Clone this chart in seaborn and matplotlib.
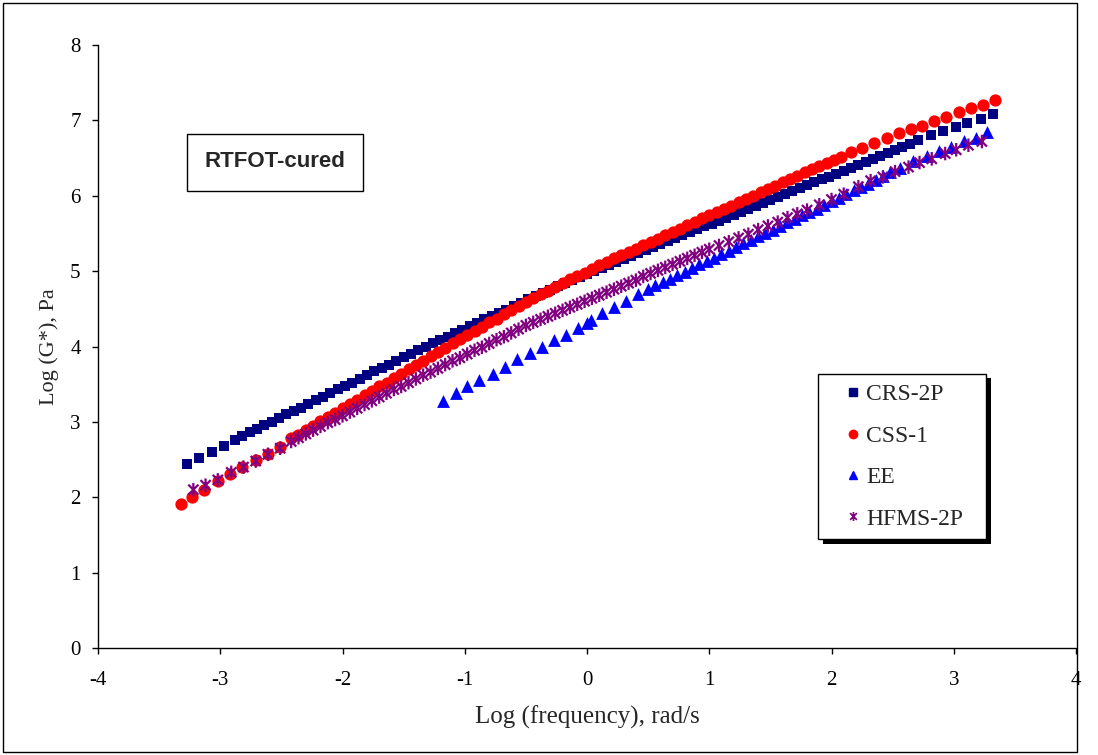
import matplotlib
matplotlib.use("Agg")
import numpy as np
import pandas as pd
import seaborn as sns
import matplotlib.pyplot as plt
from matplotlib.path import Path
from matplotlib.patches import Rectangle
from matplotlib.lines import Line2D
from matplotlib.transforms import IdentityTransform

# ---------------- data ----------------
series_names = ["CRS-2P", "CSS-1", "EE", "HFMS-2P"]

crs_x = [-3.27, -3.17, -3.07, -2.97, -2.88, -2.82, -2.76, -2.70, -2.64, -2.58, -2.52, -2.46, -2.40,
         -2.34, -2.28, -2.22, -2.16, -2.10, -2.04, -1.98, -1.92, -1.86, -1.80, -1.74, -1.68, -1.62,
         -1.56, -1.50, -1.44, -1.38, -1.32, -1.26, -1.20, -1.14, -1.08, -1.02, -0.96, -0.90, -0.84,
         -0.78, -0.72, -0.66, -0.60, -0.54, -0.48, -0.42, -0.36, -0.30, -0.24, -0.18, -0.12, -0.06,
         0.00, 0.06, 0.12, 0.18, 0.24, 0.30, 0.36, 0.42, 0.48, 0.54, 0.60, 0.66, 0.72, 0.78, 0.84,
         0.90, 0.96, 1.02, 1.08, 1.14, 1.20, 1.26, 1.32, 1.38, 1.44, 1.50, 1.56, 1.62, 1.68, 1.74,
         1.80, 1.86, 1.92, 1.98, 2.04, 2.10, 2.16, 2.22, 2.28, 2.34, 2.40, 2.46, 2.52, 2.58, 2.64,
         2.71, 2.81, 2.91, 3.02, 3.11, 3.22, 3.32]
crs_y = [2.44, 2.52, 2.60, 2.68, 2.76, 2.81, 2.86, 2.91, 2.96, 3.00, 3.05, 3.10, 3.14,
         3.19, 3.24, 3.29, 3.33, 3.38, 3.43, 3.48, 3.52, 3.57, 3.62, 3.67, 3.72, 3.76,
         3.81, 3.86, 3.90, 3.95, 3.99, 4.04, 4.09, 4.13, 4.18, 4.22, 4.27, 4.31, 4.36,
         4.40, 4.45, 4.49, 4.54, 4.58, 4.63, 4.67, 4.71, 4.75, 4.80, 4.84, 4.88, 4.92,
         4.96, 5.00, 5.04, 5.08, 5.12, 5.16, 5.20, 5.24, 5.28, 5.32, 5.36, 5.40, 5.44, 5.48, 5.52,
         5.56, 5.60, 5.63, 5.67, 5.71, 5.75, 5.79, 5.83, 5.87, 5.91, 5.94, 5.98, 6.02, 6.06, 6.10,
         6.14, 6.18, 6.22, 6.25, 6.29, 6.33, 6.37, 6.41, 6.45, 6.49, 6.53, 6.57, 6.61, 6.65, 6.69,
         6.74, 6.80, 6.86, 6.91, 6.97, 7.02, 7.08]

css_x = [-3.32, -3.23, -3.13, -3.02, -2.92, -2.82, -2.71, -2.61, -2.51, -2.42, -2.36, -2.30, -2.24,
         -2.18, -2.12, -2.06, -2.00, -1.94, -1.88, -1.82, -1.76, -1.70, -1.64, -1.58, -1.52, -1.46,
         -1.40, -1.34, -1.28, -1.22, -1.16, -1.10, -1.04, -0.98, -0.92, -0.86, -0.80, -0.74, -0.68,
         -0.62, -0.56, -0.50, -0.44, -0.38, -0.32, -0.26, -0.20, -0.14, -0.08, -0.02, 0.04, 0.10,
         0.16, 0.22, 0.28, 0.34, 0.40, 0.46, 0.52, 0.58, 0.64, 0.70, 0.76, 0.82, 0.88, 0.94, 1.00,
         1.06, 1.12, 1.18, 1.24, 1.30, 1.36, 1.42, 1.48, 1.54, 1.60, 1.66, 1.72, 1.78, 1.84, 1.90,
         1.96, 2.02, 2.08, 2.16, 2.25, 2.35, 2.45, 2.55, 2.65, 2.74, 2.84, 2.94, 3.04, 3.14, 3.24, 3.34]
css_y = [1.91, 2.00, 2.10, 2.21, 2.31, 2.40, 2.49, 2.58, 2.67, 2.78, 2.83, 2.89, 2.95,
         3.01, 3.06, 3.12, 3.18, 3.24, 3.29, 3.35, 3.41, 3.47, 3.52, 3.58, 3.64, 3.70,
         3.75, 3.81, 3.87, 3.93, 3.98, 4.04, 4.10, 4.15, 4.21, 4.26, 4.32, 4.37, 4.43,
         4.48, 4.54, 4.59, 4.64, 4.69, 4.74, 4.79, 4.84, 4.89, 4.94, 4.98, 5.03, 5.08,
         5.12, 5.17, 5.21, 5.26, 5.30, 5.34, 5.39, 5.43, 5.48, 5.52, 5.56, 5.61, 5.65, 5.70, 5.74,
         5.78, 5.83, 5.87, 5.92, 5.96, 6.00, 6.05, 6.09, 6.13, 6.18, 6.22, 6.26, 6.31, 6.35, 6.39,
         6.44, 6.48, 6.52, 6.58, 6.64, 6.70, 6.76, 6.83, 6.88, 6.93, 6.99, 7.05, 7.11, 7.16, 7.21, 7.27]

ee_x = [-1.18, -1.07, -0.98, -0.88, -0.77, -0.67, -0.57, -0.47, -0.37, -0.27, -0.17, -0.07, 0.00,
        0.03, 0.12, 0.22, 0.32, 0.42, 0.50, 0.56, 0.62, 0.68, 0.74, 0.80, 0.86, 0.92, 0.98, 1.04,
        1.10, 1.16, 1.22, 1.28, 1.34, 1.40, 1.46, 1.52, 1.58, 1.64, 1.70, 1.76, 1.82, 1.88, 1.94,
        2.00, 2.06, 2.12, 2.18, 2.24, 2.30, 2.36, 2.42, 2.48, 2.56, 2.67, 2.78, 2.88, 2.98, 3.08,
        3.18, 3.27]
ee_y = [3.28, 3.38, 3.47, 3.55, 3.64, 3.73, 3.83, 3.91, 4.00, 4.08, 4.15, 4.25, 4.31,
        4.35, 4.44, 4.52, 4.61, 4.69, 4.76, 4.81, 4.85, 4.90, 4.95, 4.99, 5.04, 5.09, 5.13, 5.18,
        5.23, 5.27, 5.32, 5.37, 5.41, 5.46, 5.51, 5.55, 5.60, 5.65, 5.69, 5.74, 5.79, 5.83, 5.88,
        5.93, 5.97, 6.02, 6.07, 6.11, 6.16, 6.21, 6.26, 6.31, 6.37, 6.46, 6.53, 6.59, 6.65, 6.72,
        6.77, 6.84]

hfms_x = [-3.22, -3.12, -3.02, -2.91, -2.81, -2.71, -2.61, -2.51, -2.42, -2.36, -2.30, -2.24, -2.18,
          -2.12, -2.06, -2.00, -1.94, -1.88, -1.82, -1.76, -1.70, -1.64, -1.58, -1.52, -1.46, -1.40,
          -1.34, -1.28, -1.22, -1.16, -1.10, -1.04, -0.98, -0.92, -0.86, -0.80, -0.74, -0.68, -0.62,
          -0.56, -0.50, -0.44, -0.38, -0.32, -0.26, -0.20, -0.14, -0.08, -0.02, 0.04, 0.10, 0.16,
          0.22, 0.28, 0.34, 0.40, 0.46, 0.52, 0.58, 0.64, 0.70, 0.76, 0.82, 0.88, 0.94, 1.00, 1.08,
          1.16, 1.24, 1.32, 1.40, 1.48, 1.56, 1.64, 1.72, 1.80, 1.90, 2.00, 2.10, 2.22, 2.32, 2.42,
          2.52, 2.63, 2.72, 2.82, 2.93, 3.02, 3.12, 3.23]
hfms_y = [2.10, 2.16, 2.23, 2.33, 2.40, 2.48, 2.57, 2.65, 2.74, 2.79, 2.84, 2.89, 2.94,
          2.99, 3.03, 3.08, 3.13, 3.18, 3.23, 3.28, 3.33, 3.38, 3.43, 3.47, 3.52, 3.57,
          3.62, 3.66, 3.71, 3.76, 3.81, 3.85, 3.90, 3.95, 3.99, 4.04, 4.09, 4.13, 4.18,
          4.23, 4.28, 4.32, 4.36, 4.40, 4.44, 4.48, 4.52, 4.56, 4.60, 4.64, 4.68, 4.72,
          4.76, 4.80, 4.84, 4.88, 4.93, 4.97, 5.01, 5.05, 5.09, 5.13, 5.17, 5.21, 5.25, 5.29, 5.34,
          5.39, 5.44, 5.49, 5.55, 5.60, 5.65, 5.71, 5.76, 5.81, 5.88, 5.95, 6.02, 6.12, 6.20, 6.25,
          6.32, 6.38, 6.44, 6.49, 6.56, 6.61, 6.67, 6.72]

x_ticks = [-4, -3, -2, -1, 0, 1, 2, 3, 4]
y_ticks = [0, 1, 2, 3, 4, 5, 6, 7, 8]
x_label = "Log (frequency), rad/s"
y_label = "Log (G*), Pa"
annotation = "RTFOT-cured"

# ---------------- styling ----------------
sns.set_style("ticks")
plt.rcParams["font.family"] = ["Liberation Serif", "DejaVu Serif"]

colors = {"CRS-2P": "#000080", "CSS-1": "#FF0000", "EE": "#0000FF", "HFMS-2P": "#800080"}
star = Path([(0, -1), (0, 1), (-0.75, -0.75), (0.75, 0.75), (-0.75, 0.75), (0.75, -0.75)],
            [Path.MOVETO, Path.LINETO, Path.MOVETO, Path.LINETO, Path.MOVETO, Path.LINETO])
markers = {"CRS-2P": "s", "CSS-1": "o", "EE": "^", "HFMS-2P": star}
sizes = {"CRS-2P": 58, "CSS-1": 78, "EE": 85, "HFMS-2P": 95}

frames = [
    pd.DataFrame({"x": crs_x, "y": crs_y, "series": "CRS-2P"}),
    pd.DataFrame({"x": css_x, "y": css_y, "series": "CSS-1"}),
    pd.DataFrame({"x": ee_x, "y": ee_y, "series": "EE"}),
    pd.DataFrame({"x": hfms_x, "y": hfms_y, "series": "HFMS-2P"}),
]
df = pd.concat(frames, ignore_index=True)

fig = plt.figure(figsize=(10.98, 7.55), dpi=100)
ax = fig.add_axes([98 / 1098, 107 / 755, 978 / 1098, 603 / 755])

for name in series_names:
    sub = df[df["series"] == name]
    if name == "HFMS-2P":
        sns.scatterplot(data=sub, x="x", y="y", marker=markers[name], s=sizes[name],
                        facecolor="none", edgecolor=colors[name], linewidth=1.6,
                        ax=ax, legend=False, zorder=3)
    else:
        sns.scatterplot(data=sub, x="x", y="y", marker=markers[name], s=sizes[name],
                        color=colors[name], edgecolor=colors[name], linewidth=0,
                        ax=ax, legend=False, zorder=3)

ax.set_xlim(-4, 4)
ax.set_ylim(0, 8)
ax.set_xticks(x_ticks)
ax.set_yticks(y_ticks)
ax.set_xticklabels([str(t) for t in x_ticks])
ax.set_yticklabels([str(t) for t in y_ticks])
ax.tick_params(axis="both", direction="out", length=4.5, width=1, color="black",
               labelsize=15, labelcolor="black")
ax.tick_params(axis="x", pad=12)
ax.tick_params(axis="y", pad=8)
for side in ["top", "right"]:
    ax.spines[side].set_visible(False)
for side in ["left", "bottom"]:
    ax.spines[side].set_color("black")
    ax.spines[side].set_linewidth(1)
ax.grid(False)

ax.set_xlabel(x_label, fontsize=18)
ax.set_ylabel(y_label, fontsize=16)
ax.xaxis.set_label_coords(0.5, -0.095)
ax.yaxis.set_label_coords(-0.040, 0.5)

# annotation box
ax.add_patch(Rectangle((0.0910, 0.7579), 0.1800, 0.0945, transform=ax.transAxes,
                       facecolor="white", edgecolor="black", linewidth=1, zorder=4))
ax.text(0.181, 0.806, annotation, transform=ax.transAxes, ha="center", va="center",
        fontsize=16, fontweight="bold", family=["Liberation Sans", "DejaVu Sans"], zorder=5)

# legend
handles = [
    Line2D([], [], linestyle="none", marker="s", markersize=5.5, color=colors["CRS-2P"]),
    Line2D([], [], linestyle="none", marker="o", markersize=6.0, color=colors["CSS-1"]),
    Line2D([], [], linestyle="none", marker="^", markersize=6.0, color=colors["EE"]),
    Line2D([], [], linestyle="none", marker=star, markersize=6.5, markerfacecolor="none",
           markeredgecolor=colors["HFMS-2P"], markeredgewidth=1.2),
]
leg = ax.legend(handles, series_names, loc="upper left", mode="expand",
                bbox_to_anchor=(0.7362, 0.0, 0.1718, 0.4544), borderaxespad=0,
                fontsize=17, frameon=True, fancybox=False, shadow=False,
                borderpad=0.42, labelspacing=0.84, handlelength=2.12, handletextpad=-0.51,
                numpoints=1)
leg.get_frame().set_edgecolor("black")
leg.get_frame().set_linewidth(1)
leg.get_frame().set_facecolor("white")
leg.get_frame().set_alpha(1)
leg.set_zorder(6)

fig.canvas.draw()
bb = leg.get_window_extent()
ax.add_patch(Rectangle((bb.x0 + 4.5, bb.y0 - 4.5), bb.width, bb.height,
                       transform=IdentityTransform(), facecolor="black", edgecolor="none",
                       zorder=5.9, clip_on=False))

# outer figure border
fig.add_artist(Rectangle((3 / 1098, 3 / 755), 1074 / 1098, 749 / 755, transform=fig.transFigure,
                         fill=False, edgecolor="black", linewidth=1))

fig.savefig("out.png", dpi=100)
